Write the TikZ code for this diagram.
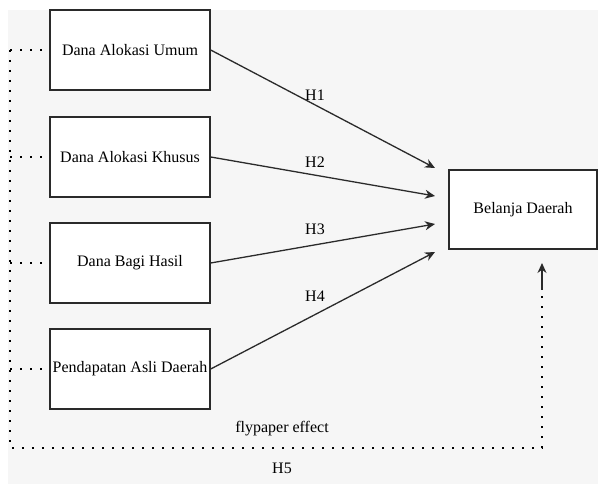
\documentclass[tikz,border=0pt]{standalone}
\usepackage{fontspec}
\setmainfont{Liberation Serif}
\usepackage{xcolor}
\usetikzlibrary{arrows.meta,positioning}
\definecolor{bggray}{HTML}{F6F6F6}
\definecolor{linegray}{HTML}{2A2A2A}

\begin{document}
\begin{tikzpicture}[x=1pt,y=-1pt]
      \tikzstyle{vbox} = [draw=linegray, line width=1.4pt, fill=white, rectangle, minimum width=160pt, minimum height=80pt, inner sep=1pt, text=black, font=\fontsize{16}{19}\selectfont]
      \tikzstyle{hlabel} = [inner sep=1pt, text=black, font=\fontsize{16}{19}\selectfont]
      \tikzstyle{harrow} = [line width=1.3pt, draw=linegray, -{Stealth[length=10pt,width=9pt]}]
      \tikzstyle{dotline} = [line width=2pt, draw=black, dash pattern=on 2pt off 8pt]

      \useasboundingbox (0,0) rectangle (598,484);
      \fill[white] (0,0) rectangle (598,484);
      \fill[bggray] (8,10) rectangle (598,484);

      % variables
      \node[vbox] (dau) at (130,50) {Dana Alokasi Umum};
      \node[vbox] (dak) at (130,157) {Dana Alokasi Khusus};
      \node[vbox] (dbh) at (130,263) {Dana Bagi Hasil};
      \node[vbox] (pad) at (130,369) {Pendapatan Asli Daerah};
      \node[vbox, minimum width=148pt, minimum height=79pt] (bd) at (523,209.5) {Belanja Daerah};

      % arrow ends
      \coordinate (t1) at (435,168);
      \coordinate (t2) at (435,196);
      \coordinate (t3) at (435,224);
      \coordinate (t4) at (435,252);

      % hypotheses
      \draw[harrow] (dau.east) -- (t1);
      \draw[harrow] (dak.east) -- (t2);
      \draw[harrow] (dbh.east) -- (t3);
      \draw[harrow] (pad.east) -- (t4);
      \node[hlabel] (h1) at (315,95) {H1};
      \node[hlabel] (h2) at (315,162) {H2};
      \node[hlabel] (h3) at (315,229) {H3};
      \node[hlabel] (h4) at (315,296) {H4};

      % flypaper effect
      \coordinate (s1) at (10,50);
      \coordinate (s2) at (10,157);
      \coordinate (s3) at (10,263);
      \coordinate (s4) at (10,369);
      \coordinate (lb) at (10,448);
      \coordinate (rb) at (542,448);
      \coordinate (ab) at (542,290);
      \coordinate (ae) at (542,263);
      \draw[dotline] (s1) -- (lb) -- (rb) -- (ab);
      \draw[dotline] (s1) -- (dau.west);
      \draw[dotline] (s2) -- (dak.west);
      \draw[dotline] (s3) -- (dbh.west);
      \draw[dotline] (s4) -- (pad.west);
      \draw[harrow] (ab) -- (ae);
      \node[hlabel] (fe) at (282,429) {flypaper effect};
      \node[hlabel] (h5) at (282,468) {H5};
    \end{tikzpicture}
\end{document}
